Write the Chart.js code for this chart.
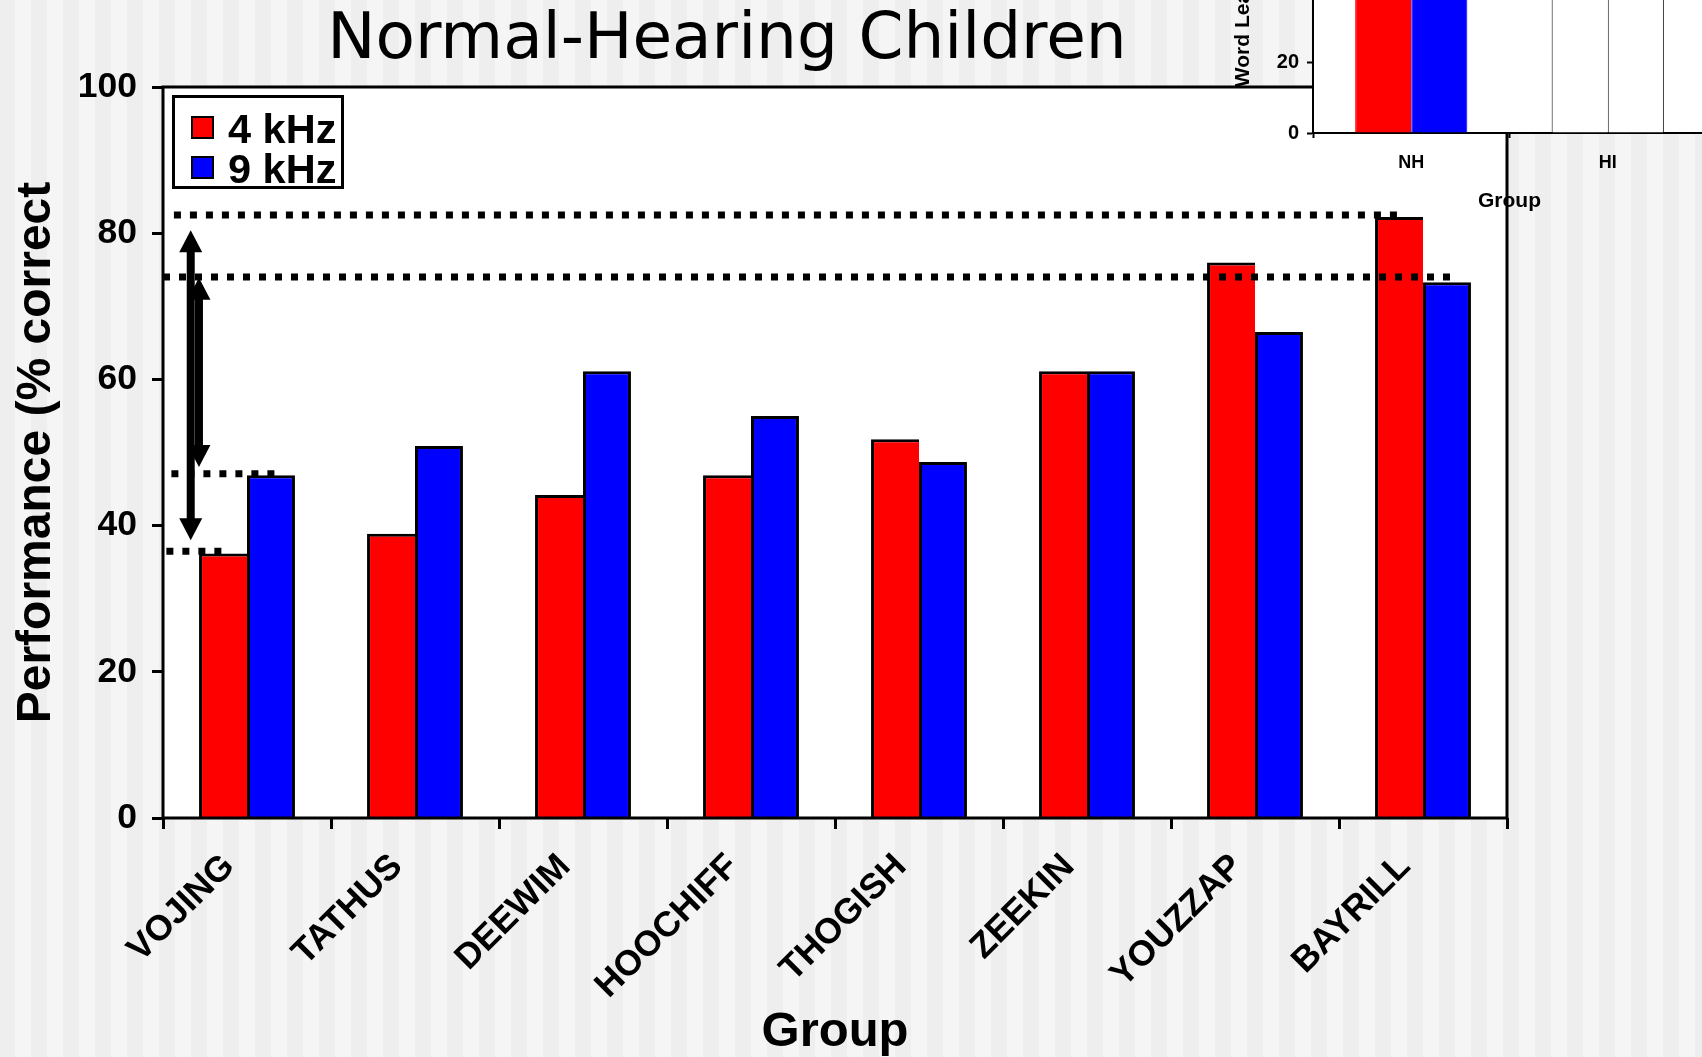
<!DOCTYPE html>
<html lang="en">
<head>
<meta charset="UTF-8">
<title>Normal-Hearing Children</title>
<script src="https://cdn.jsdelivr.net/npm/chart.js"></script>
<style>
    html, body {
        margin: 0;
        padding: 0;
        width: 1702px;
        height: 1057px;
        overflow: hidden;
    }
    body {
        position: relative;
        background: linear-gradient(90deg, #f5f5f5 50%, #eeeeee 50%);
        background-size: 32px 100%;
        background-position: 15px 0;
    }
    #mainChart { position: absolute; left: 0; top: 0; }
    #insetChart { position: absolute; left: 1200px; top: -260px; }
</style>
</head>
<body>
<canvas id="mainChart" width="1702" height="1057"></canvas>
<canvas id="insetChart" width="520" height="480"></canvas>

<script>
    // Main chart data
    const categories = ['VOJING', 'TATHUS', 'DEEWIM', 'HOOCHIFF', 'THOGISH', 'ZEEKIN', 'YOUZZAP', 'BAYRILL'];
    const seriesLabels = ['4 kHz', '9 kHz'];
    const series4k = [36.2, 38.9, 44.2, 46.9, 51.8, 61.1, 76.0, 82.2];
    const series9k = [46.9, 50.9, 61.1, 55.0, 48.7, 61.1, 66.5, 73.3];
    const yTicks = [0, 20, 40, 60, 80, 100];

    // dotted reference lines: y value, x range in category units
    const refLines = [
        { value: 82.5, from: -0.435, to: 6.86 },
        { value: 74.0, from: -0.5, to: 7.19 },
        { value: 47.1, from: -0.45, to: 0.17 },
        { value: 36.5, from: -0.48, to: -0.15 }
    ];
    // double arrows: x in category units, tip values
    const arrows = [
        { at: -0.335, from: 80.4, to: 38.0 },
        { at: -0.286, from: 73.9, to: 48.0 }
    ];

    // Inset chart data (only the bottom of it shows)
    const insetGroups = ['NH', 'HI'];
    const inset4k = [62, 48];
    const inset9k = [64, 52];
    const insetTicks = [0, 20, 40, 60, 80, 100];

    const FONT = '"Liberation Sans", Arial, sans-serif';
    const RED = '#ff0000';
    const BLUE = '#0000ff';

    function drawArrow(ctx, x, yTop, yBot) {
        const shaft = 8, headW = 23, headL = 22;
        ctx.fillRect(x - shaft / 2, yTop + headL - 1, shaft, yBot - yTop - 2 * headL + 2);
        ctx.beginPath();
        ctx.moveTo(x, yTop);
        ctx.lineTo(x - headW / 2, yTop + headL);
        ctx.lineTo(x + headW / 2, yTop + headL);
        ctx.closePath();
        ctx.fill();
        ctx.beginPath();
        ctx.moveTo(x, yBot);
        ctx.lineTo(x - headW / 2, yBot - headL);
        ctx.lineTo(x + headW / 2, yBot - headL);
        ctx.closePath();
        ctx.fill();
    }

    const mainDecor = {
        id: 'mainDecor',
        beforeDraw(chart) {
            const { ctx, chartArea: a } = chart;
            ctx.save();
            ctx.fillStyle = '#fff';
            ctx.fillRect(a.left, a.top, a.right - a.left, a.bottom - a.top);
            ctx.restore();
        },
        afterDatasetsDraw(chart) {
            const { ctx, scales: { x, y } } = chart;
            ctx.save();
            ctx.strokeStyle = '#000';
            ctx.lineWidth = 7;
            ctx.setLineDash([7, 9]);
            refLines.forEach(l => {
                const py = y.getPixelForValue(l.value);
                ctx.beginPath();
                ctx.moveTo(x.getPixelForValue(l.from), py);
                ctx.lineTo(x.getPixelForValue(l.to), py);
                ctx.stroke();
            });
            ctx.setLineDash([]);
            ctx.fillStyle = '#000';
            arrows.forEach(ar => {
                drawArrow(ctx, x.getPixelForValue(ar.at), y.getPixelForValue(ar.from), y.getPixelForValue(ar.to));
            });
            ctx.restore();
        },
        afterDraw(chart) {
            const { ctx, chartArea: a } = chart;
            ctx.save();
            // plot frame
            ctx.strokeStyle = '#000';
            ctx.lineWidth = 3;
            ctx.strokeRect(a.left, a.top, a.right - a.left, a.bottom - a.top);

            // legend box
            const lx = a.left + 10.5, ly = a.top + 9.5;
            ctx.fillStyle = '#fff';
            ctx.fillRect(lx, ly, 169, 91);
            ctx.strokeRect(lx, ly, 169, 91);
            ctx.font = 'bold 41.5px ' + FONT;
            ctx.textBaseline = 'alphabetic';
            ctx.textAlign = 'left';
            chart.data.datasets.forEach((ds, i) => {
                const sy = a.top + 30 + i * 40;
                ctx.fillStyle = ds.backgroundColor;
                ctx.fillRect(a.left + 29, sy, 21, 21);
                ctx.lineWidth = 2;
                ctx.strokeRect(a.left + 29, sy, 21, 21);
                ctx.fillStyle = '#000';
                ctx.fillText(ds.label, a.left + 65, a.top + 56 + i * 40);
            });

            // chart title
            ctx.font = '64.5px "DejaVu Sans", Verdana, sans-serif';
            ctx.textAlign = 'center';
            ctx.fillStyle = '#000';
            ctx.fillText('Normal-Hearing Children', 727, 58);
            ctx.restore();
        }
    };

    new Chart(document.getElementById('mainChart'), {
        type: 'bar',
        data: {
            labels: categories,
            datasets: [
                {
                    label: seriesLabels[0],
                    data: series4k,
                    backgroundColor: RED,
                    borderColor: '#000',
                    borderWidth: { top: 3, left: 3, right: 0, bottom: 0 }
                },
                {
                    label: seriesLabels[1],
                    data: series9k,
                    backgroundColor: BLUE,
                    borderColor: '#000',
                    borderWidth: { top: 3, left: 3, right: 3, bottom: 0 }
                }
            ]
        },
        options: {
            responsive: false,
            animation: false,
            layout: { padding: { top: 87, right: 195, left: 0, bottom: 0 } },
            datasets: { bar: { barPercentage: 1, categoryPercentage: 0.571 } },
            plugins: {
                legend: { display: false },
                tooltip: { enabled: false },
                title: { display: false }
            },
            scales: {
                x: {
                    offset: true,
                    grid: { offset: true, drawOnChartArea: false, tickLength: 11, tickWidth: 3, tickColor: '#000' },
                    border: { display: false },
                    ticks: {
                        autoSkip: false,
                        minRotation: 45,
                        maxRotation: 45,
                        padding: 17,
                        labelOffset: -18,
                        color: '#000',
                        font: { family: FONT, size: 35.5, weight: 'bold' }
                    },
                    title: {
                        display: true,
                        text: 'Group',
                        color: '#000',
                        font: { family: FONT, size: 49, weight: 'bold' },
                        padding: { top: 0, bottom: -5 }
                    },
                    afterFit(s) { s.height = 239; }
                },
                y: {
                    min: 0,
                    max: 100,
                    afterBuildTicks(s) { s.ticks = yTicks.map(v => ({ value: v })); },
                    grid: { drawOnChartArea: false, tickLength: 11, tickWidth: 3, tickColor: '#000' },
                    border: { display: false },
                    ticks: {
                        padding: 15,
                        color: '#000',
                        font: { family: FONT, size: 35.5, weight: 'bold' }
                    },
                    title: {
                        display: true,
                        text: 'Performance (% correct',
                        color: '#000',
                        font: { family: FONT, size: 48, weight: 'bold' },
                        padding: { top: 7.5, bottom: 0 }
                    },
                    afterFit(s) { s.width = 163; }
                }
            }
        },
        plugins: [mainDecor]
    });

    const insetBg = {
        id: 'insetBg',
        beforeDraw(chart) {
            const { ctx, chartArea: a } = chart;
            ctx.save();
            ctx.fillStyle = '#fff';
            ctx.fillRect(a.left, a.top, a.right - a.left, a.bottom - a.top);
            ctx.restore();
        }
    };

    new Chart(document.getElementById('insetChart'), {
        type: 'bar',
        data: {
            labels: insetGroups,
            datasets: [
                {
                    label: seriesLabels[0],
                    data: inset4k,
                    backgroundColor: [RED, '#ffffff'],
                    borderColor: [RED, '#000'],
                    borderWidth: { top: 1, left: 1, right: 0, bottom: 0 }
                },
                {
                    label: seriesLabels[1],
                    data: inset9k,
                    backgroundColor: [BLUE, '#ffffff'],
                    borderColor: [BLUE, '#000'],
                    borderWidth: { top: 1, left: 1, right: 1, bottom: 0 }
                }
            ]
        },
        options: {
            responsive: false,
            animation: false,
            layout: { padding: { top: 38, right: 14, left: 0, bottom: 0 } },
            datasets: { bar: { barPercentage: 1, categoryPercentage: 0.571 } },
            plugins: {
                legend: { display: false },
                tooltip: { enabled: false }
            },
            scales: {
                x: {
                    offset: true,
                    grid: { offset: true, drawOnChartArea: false, tickLength: 5, tickWidth: 2, tickColor: '#000' },
                    border: { display: true, color: '#000', width: 2 },
                    ticks: { padding: 14, color: '#000', font: { family: FONT, size: 18, weight: 'bold' } },
                    title: {
                        display: true,
                        text: 'Group',
                        color: '#000',
                        font: { family: FONT, size: 21, weight: 'bold' },
                        padding: { top: 0, bottom: 6 }
                    },
                    afterFit(s) { s.height = 87; }
                },
                y: {
                    min: 0,
                    max: 100,
                    afterBuildTicks(s) { s.ticks = insetTicks.map(v => ({ value: v })); },
                    grid: { drawOnChartArea: false, tickLength: 6, tickWidth: 2, tickColor: '#000' },
                    border: { display: true, color: '#000', width: 2 },
                    ticks: { padding: 8, color: '#000', font: { family: FONT, size: 20, weight: 'bold' } },
                    title: {
                        display: true,
                        text: 'Word Learning (% correct)',
                        color: '#000',
                        font: { family: FONT, size: 21, weight: 'bold' },
                        padding: { top: 31, bottom: 0 }
                    },
                    afterFit(s) { s.width = 113; }
                }
            }
        },
        plugins: [insetBg]
    });
</script>
</body>
</html>
